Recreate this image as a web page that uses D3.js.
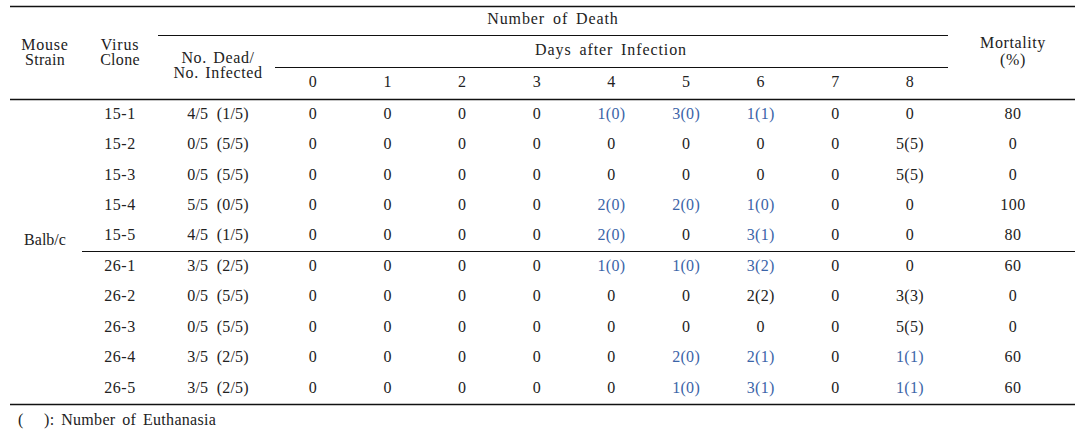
<!DOCTYPE html>
<html><head><meta charset="utf-8">
<script src="https://cdn.jsdelivr.net/npm/d3@7"></script>
<style>
body{margin:0;background:#fff;}
text{font-family:"Liberation Serif","DejaVu Serif",serif;font-size:16px;fill:#222;white-space:pre;}
</style></head><body>
<svg id="c" width="1091" height="441"></svg>
<script>
const strain = "Balb/c";
const clones = ["15-1","15-2","15-3","15-4","15-5","26-1","26-2","26-3","26-4","26-5"];
const deadInfected = ["4/5  (1/5)","0/5  (5/5)","0/5  (5/5)","5/5  (0/5)","4/5  (1/5)","3/5  (2/5)","0/5  (5/5)","0/5  (5/5)","3/5  (2/5)","3/5  (2/5)"];
const days = ["0","1","2","3","4","5","6","7","8"];
const deaths = [
  ["0","0","0","0","1(0)","3(0)","1(1)","0","0"],
  ["0","0","0","0","0","0","0","0","5(5)"],
  ["0","0","0","0","0","0","0","0","5(5)"],
  ["0","0","0","0","2(0)","2(0)","1(0)","0","0"],
  ["0","0","0","0","2(0)","0","3(1)","0","0"],
  ["0","0","0","0","1(0)","1(0)","3(2)","0","0"],
  ["0","0","0","0","0","0","2(2)","0","3(3)"],
  ["0","0","0","0","0","0","0","0","5(5)"],
  ["0","0","0","0","0","2(0)","2(1)","0","1(1)"],
  ["0","0","0","0","0","1(0)","3(1)","0","1(1)"]
];
const highlighted = [
  [0,0,0,0,1,1,1,0,0],
  [0,0,0,0,0,0,0,0,0],
  [0,0,0,0,0,0,0,0,0],
  [0,0,0,0,1,1,1,0,0],
  [0,0,0,0,1,0,1,0,0],
  [0,0,0,0,1,1,1,0,0],
  [0,0,0,0,0,0,0,0,0],
  [0,0,0,0,0,0,0,0,0],
  [0,0,0,0,0,1,1,0,1],
  [0,0,0,0,0,1,1,0,1]
];
const mortality = [80,0,0,100,80,60,0,0,60,60];
const headers = {strain:["Mouse","Strain"], clone:["Virus","Clone"], dead:["No. Dead/","No. Infected"], group:"Number of Death", sub:"Days after Infection", mort:["Mortality","(%)"]};
const footnote = "(   ): Number of Euthanasia";

const svg = d3.select("#c");
const L = 10, R = 1075;
const blue = "#3b64a8";
const xDay = d3.scalePoint().domain(days).range([313, 910]);
const y = d3.scaleLinear().domain([0, clones.length-1]).range([115, 389]);
const xStrain = 45, xClone = 120, xDead = 218, xMort = 1013;

function line(x1,x2,yy,w){svg.append("line").attr("x1",x1).attr("x2",x2).attr("y1",yy).attr("y2",yy).attr("stroke","#111").attr("stroke-width",w||1.3);}
function txt(x,yy,s,opt){opt=opt||{};return svg.append("text").attr("x",x).attr("y",yy).attr("text-anchor",opt.anchor||"middle").attr("dominant-baseline","middle").style("fill",opt.fill||"#222").style("letter-spacing",opt.ls||"0.5px").style("word-spacing",opt.ws||"0px").text(s);}

// rules
line(L,R,6.5);
line(158,948,35.5,1.2);
line(275,948,67.5,1.2);
line(L,R,99.5);
line(82,R,251.5,1.2);
line(L,R,404.5);

// headers
txt(xStrain,46,headers.strain[0],{ls:"0.8px"}); txt(xStrain,61,headers.strain[1],{ls:"0.3px"});
txt(xClone,46,headers.clone[0],{ls:"0.8px"}); txt(xClone,61,headers.clone[1],{ls:"0.3px"});
txt(xDead,59,headers.dead[0],{ls:"0.6px",ws:"2px"}); txt(xDead,74,headers.dead[1],{ls:"0.6px",ws:"2px"});
txt(553,20,headers.group,{ls:"0.9px",ws:"3px"});
txt(611,51,headers.sub,{ls:"0.9px",ws:"3px"});
txt(xMort,44,headers.mort[0],{ls:"0.6px"}); txt(xMort,61,headers.mort[1],{ls:"0.6px"});
days.forEach(d=>txt(xDay(d),83,d));

// body
txt(45,241,strain,{ls:"0px"});
clones.forEach((c,i)=>{
  txt(xClone,y(i),c);
  txt(xDead,y(i),deadInfected[i],{ls:"0.2px"});
  days.forEach((d,j)=>txt(xDay(d),y(i),deaths[i][j],{fill:highlighted[i][j]?blue:"#222",ls:"0.3px"}));
  txt(xMort,y(i),mortality[i]);
});
txt(18,421,footnote,{anchor:"start",ls:"0.3px",ws:"2.5px"});
</script></body></html>
